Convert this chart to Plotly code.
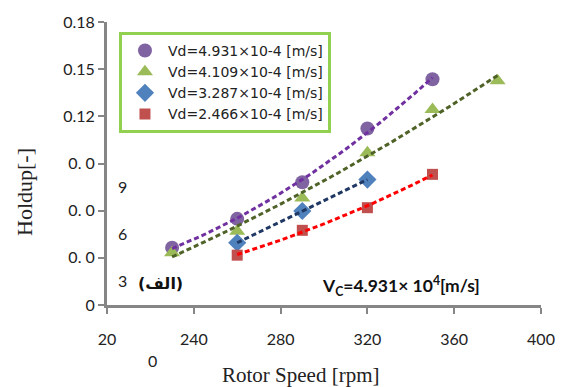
import numpy as np
import plotly.graph_objects as go

# ---- data ----
rpm_vd1 = [230, 260, 290, 320, 350]
hold_vd1 = [0.0364, 0.0548, 0.0781, 0.1123, 0.1436]
rpm_vd2 = [230, 260, 290, 320, 350, 380]
hold_vd2 = [0.0333, 0.0469, 0.0681, 0.0969, 0.1244, 0.1427]
rpm_vd3 = [260, 290, 320]
hold_vd3 = [0.0396, 0.0598, 0.0798]
rpm_vd4 = [260, 290, 320, 350]
hold_vd4 = [0.0317, 0.0475, 0.0619, 0.0831]

names = ["Vd=4.931×10-4 [m/s]", "Vd=4.109×10-4 [m/s]",
         "Vd=3.287×10-4 [m/s]", "Vd=2.466×10-4 [m/s]"]

y_tickvals = [0, 0.03, 0.06, 0.09, 0.12, 0.15, 0.18]
y_ticktext = ["0", "0. 0", "0. 0", "0. 0", "0.12", "0.15", "0.18"]
y_wrapped = ["3", "6", "9"]
x_tickvals = [200, 240, 280, 320, 360, 400]
x_ticktext = ["20", "240", "280", "320", "360", "400"]

series = [
    (rpm_vd1, hold_vd1, "circle", "#8064A2", 14, "#7030A0"),
    (rpm_vd2, hold_vd2, "triangle-up", "#9BBB59", 14, "#4F6228"),
    (rpm_vd3, hold_vd3, "diamond", "#4F81BD", 14, "#1F3864"),
    (rpm_vd4, hold_vd4, "square", "#C0504D", 11, "#FF0000"),
]

fig = go.Figure()
# markers (legend)
for (xs, ys, sym, col, sz, lc), nm in zip(series, names):
    fig.add_trace(go.Scatter(x=xs, y=ys, mode="markers", name=nm,
                             marker=dict(symbol=sym, color=col, size=sz)))
# polynomial trendlines (order 2) computed from the data
for xs, ys, sym, col, sz, lc in series:
    c = np.polyfit(xs, ys, 2)
    xx = np.linspace(min(xs), max(xs), 60)
    fig.add_trace(go.Scatter(x=xx, y=np.polyval(c, xx), mode="lines",
                             showlegend=False, hoverinfo="skip",
                             line=dict(color=lc, width=3, dash="5px,3px")))

axis_common = dict(showline=True, linecolor="#868686", linewidth=3,
                   ticks="outside", tickcolor="#868686", ticklen=6, tickwidth=2,
                   showgrid=False, zeroline=False,
                   tickfont=dict(family="Lato", size=16, color="#222"))

fig.update_xaxes(range=[200, 400], tickvals=x_tickvals, ticktext=x_ticktext,
                 ticklabelstandoff=12, **axis_common)
fig.update_yaxes(range=[0, 0.18], tickvals=y_tickvals, ticktext=y_ticktext, **axis_common)

tf = dict(family="Lato", size=16, color="#222")
annotations = []
for v, t in zip([0.03, 0.06, 0.09], y_wrapped):
    annotations.append(dict(text=t, xref="paper", yref="y", x=(123 - 107) / 435, y=v, yshift=-23,
                            xanchor="center", yanchor="middle", showarrow=False, font=tf))
annotations.append(dict(text="0", xref="paper", yref="paper", x=(153 - 107) / 435, y=0, yshift=-55,
                        xanchor="center", yanchor="middle", showarrow=False, font=tf))
annotations.append(dict(text="Rotor Speed [rpm]", xref="paper", yref="paper", x=(301 - 107) / 435,
                        y=0, yshift=-70, xanchor="center", yanchor="middle", showarrow=False,
                        font=dict(family="Liberation Serif", size=21, color="#222")))
annotations.append(dict(text="Holdup[-]", xref="paper", yref="paper", x=0, xshift=-82,
                        y=(305 - 190) / 288, xanchor="center", yanchor="middle",
                        textangle=-90, showarrow=False,
                        font=dict(family="Liberation Serif", size=22, color="#222")))
annotations.append(dict(text="<b>(الف)</b>", xref="paper", yref="paper", x=(161 - 107) / 435,
                        y=(305 - 283) / 288, xanchor="center", yanchor="middle", showarrow=False,
                        font=dict(family="DejaVu Sans", size=16, color="#111")))
annotations.append(dict(text="<b>V<sub>C</sub>=4.931× 10<sup>4</sup>[m/s]</b>", xref="paper", yref="paper",
                        x=(320 - 107) / 435, y=(305 - 286) / 288, xanchor="left", yanchor="middle",
                        showarrow=False, font=dict(family="Lato", size=17.5, color="#111")))

fig.update_layout(
    width=567, height=387,
    margin=dict(l=107, r=25, t=17, b=82),
    plot_bgcolor="white", paper_bgcolor="white",
    showlegend=True,
    legend=dict(x=(119 - 107) / 435, y=(305 - 27) / 288, xanchor="left", yanchor="top",
                bordercolor="#92D050", borderwidth=3, bgcolor="white",
                itemwidth=36,
                font=dict(family="DejaVu Sans", size=14, color="#222")),
    annotations=annotations,
)

fig.write_html("out.html")
